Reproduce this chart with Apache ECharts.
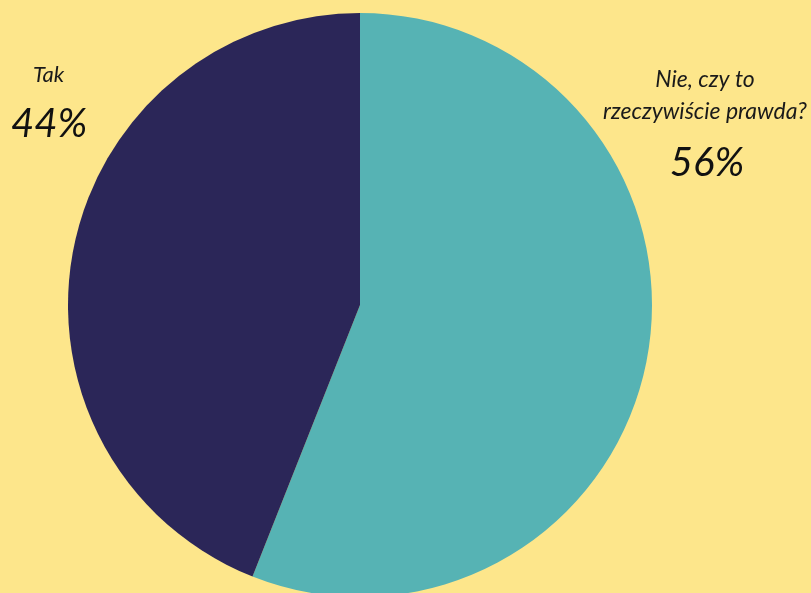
<!DOCTYPE html>
<html><head><meta charset="utf-8">
<script src="https://cdn.jsdelivr.net/npm/echarts@6/dist/echarts.min.js"></script>
<style>html,body{margin:0;padding:0;background:#FDE68B;}#c{width:811px;height:593px;}</style>
</head><body><div id="c"></div>
<script>
const categories = ['Nie, czy to\nrzeczywiście prawda?', 'Tak'];
const values = [56, 44];
const colors = ['#56B3B4', '#2B2658'];

const chart = echarts.init(document.getElementById('c'));
chart.setOption({
  backgroundColor: '#FDE68B',
  animation: false,
  series: [{
    type: 'pie',
    center: [360, 305],
    radius: [0, 292],
    startAngle: 90,
    clockwise: true,
    label: { show: false },
    labelLine: { show: false },
    itemStyle: { borderWidth: 0 },
    emphasis: { disabled: true },
    data: categories.map((c, i) => ({ name: c, value: values[i], itemStyle: { color: colors[i] } }))
  }],
  graphic: [
    { type: 'text', left: 33, top: 64, style: { text: categories[1], font: 'italic 22px Lato', fill: '#1a1a1a' } },
    { type: 'text', left: 11, top: 104, style: { text: values[1] + '%', font: 'italic 40px Lato', fill: '#111' } },
    { type: 'text', x: 705, y: 64, style: { text: categories[0], font: 'italic 23px Lato', fill: '#1a1a1a', align: 'center', lineHeight: 32 } },
    { type: 'text', x: 707, y: 143, style: { text: values[0] + '%', font: 'italic 40px Lato', fill: '#111', align: 'center' } }
  ]
});
</script></body></html>
